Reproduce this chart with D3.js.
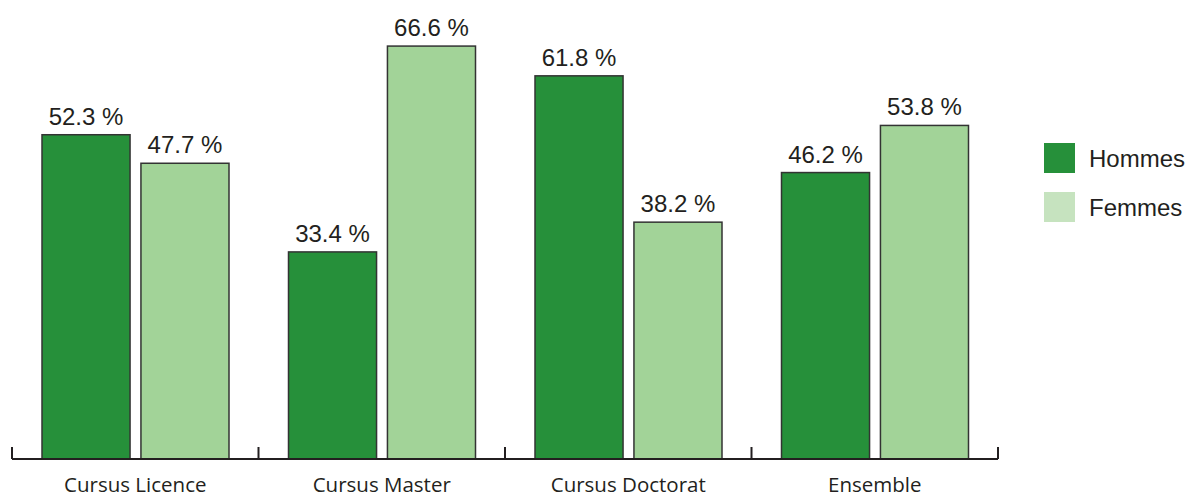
<!DOCTYPE html>
<html>
<head>
<meta charset="utf-8">
<script src="https://cdn.jsdelivr.net/npm/d3@7"></script>
<style>
  body { margin: 0; background: #fff; }
  svg { display: block; }
</style>
</head>
<body>
<svg></svg>
<script>
var categories = ["Cursus Licence", "Cursus Master", "Cursus Doctorat", "Ensemble"];
var series = ["Hommes", "Femmes"];
var hommes = [52.3, 33.4, 61.8, 46.2];
var femmes = [47.7, 66.6, 38.2, 53.8];

var barColors = {Hommes: "#26903a", Femmes: "#a2d398"};
var legendColors = {Hommes: "#26903a", Femmes: "#c6e3bf"};

var width = 1189, height = 499;
var svg = d3.select("svg").attr("width", width).attr("height", height);

var data = categories.map((c, i) => ({category: c, Hommes: hommes[i], Femmes: femmes[i]}));

var x = d3.scaleBand()
    .domain(categories)
    .range([12, 998])
    .padding(0);

var xInner = d3.scaleBand()
    .domain(series)
    .range([30, 217])
    .paddingInner(0.11);

var y = d3.scaleLinear()
    .domain([0, 74])
    .range([459, 459 - 74 * 6.2]);

var groups = svg.selectAll(".group")
    .data(data)
    .enter()
    .append("g")
        .classed("group", true)
        .attr("transform", d => "translate(" + x(d.category) + ",0)");

groups.selectAll("rect")
    .data(d => series.map(s => ({key: s, value: d[s]})))
    .enter()
    .append("rect")
        .attr("x", d => xInner(d.key))
        .attr("y", d => y(d.value))
        .attr("width", xInner.bandwidth())
        .attr("height", d => y(0) - y(d.value))
        .attr("fill", d => barColors[d.key])
        .attr("stroke", "#333")
        .attr("stroke-width", 1.5);

groups.selectAll(".val")
    .data(d => series.map(s => ({key: s, value: d[s]})))
    .enter()
    .append("text")
        .classed("val", true)
        .attr("x", d => xInner(d.key) + xInner.bandwidth() / 2)
        .attr("y", d => y(d.value) - 10)
        .attr("text-anchor", "middle")
        .attr("font-family", "Liberation Sans, Arial, sans-serif")
        .attr("font-size", 24)
        .attr("fill", "#231f20")
        .text(d => d.value.toFixed(1) + " %");

// axis: baseline with ticks at band edges
var axis = d3.axisBottom(x).tickSize(0).tickPadding(0);
var axisG = svg.append("g")
    .attr("transform", "translate(0," + y(0) + ")")
    .call(axis);
axisG.select(".domain").remove();
axisG.selectAll("text")
    .attr("dy", null)
    .attr("y", 33)
    .attr("font-family", "Open Sans, sans-serif")
    .attr("font-size", 20.5)
    .attr("fill", "#231f20");

var edges = categories.map(c => x(c)).concat([x.range()[1]]);
axisG.append("line")
    .attr("x1", 12).attr("x2", 998)
    .attr("y1", 0).attr("y2", 0)
    .attr("stroke", "#231f20")
    .attr("stroke-width", 2);
axisG.selectAll(".edge")
    .data(edges)
    .enter()
    .append("line")
        .classed("edge", true)
        .attr("x1", d => d).attr("x2", d => d)
        .attr("y1", 0).attr("y2", -12)
        .attr("stroke", "#231f20")
        .attr("stroke-width", 2);

// legend
var legend = svg.selectAll(".legend")
    .data(series)
    .enter()
    .append("g")
        .classed("legend", true)
        .attr("transform", (d, i) => "translate(1044," + (143 + i * 49) + ")");
legend.append("rect")
    .attr("width", 31)
    .attr("height", 30)
    .attr("fill", d => legendColors[d]);
legend.append("text")
    .attr("x", 45)
    .attr("y", 24)
    .attr("font-family", "Liberation Sans, Arial, sans-serif")
    .attr("font-size", 24)
    .attr("fill", "#231f20")
    .text(d => d);
</script>
</body>
</html>
